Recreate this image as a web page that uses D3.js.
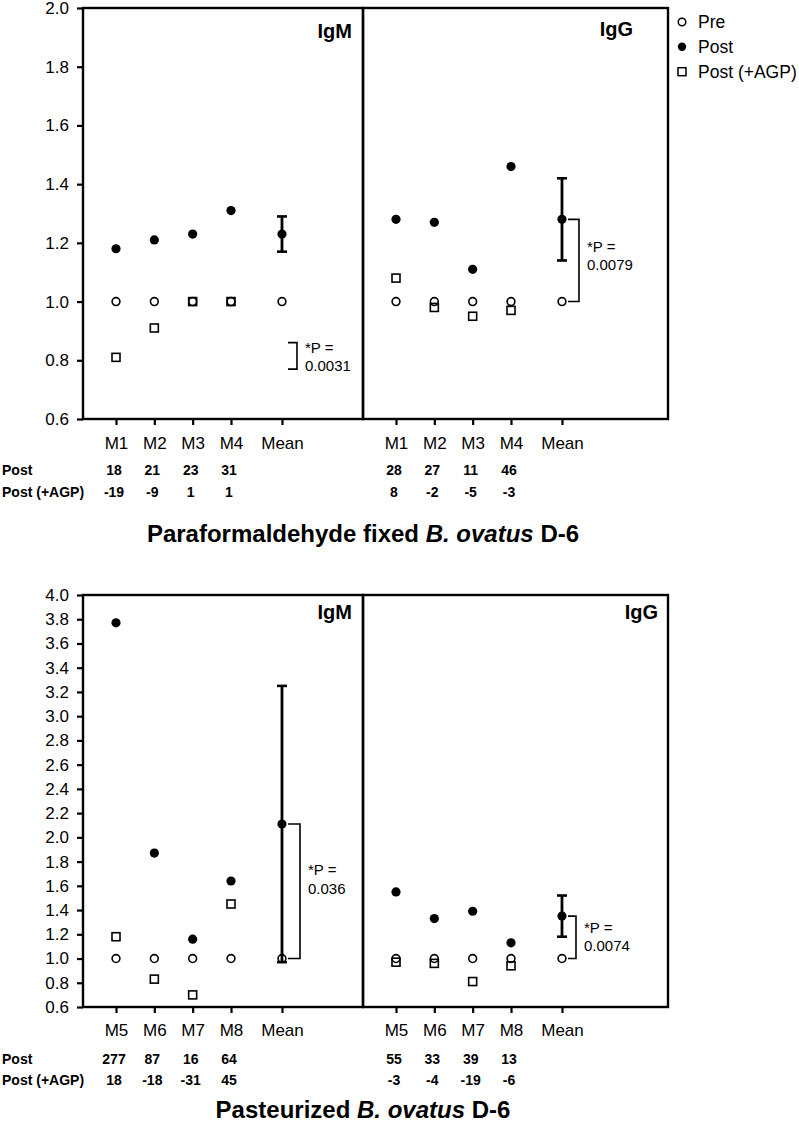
<!DOCTYPE html>
<html><head><meta charset="utf-8">
<script src="https://cdn.jsdelivr.net/npm/d3@7"></script>
<style>
html,body{margin:0;padding:0;background:#fff;}
svg{display:block;font-family:"Liberation Sans",Arial,Helvetica,sans-serif;}
</style></head>
<body>
<svg id="chart" width="799" height="1124"></svg>
<script>
// ---------- data ----------
const catsTop = ["M1", "M2", "M3", "M4", "Mean"];
const catsBottom = ["M5", "M6", "M7", "M8", "Mean"];
const xPositions = [1, 2, 3, 4, 5.33];

const topTicks = [0.6, 0.8, 1.0, 1.2, 1.4, 1.6, 1.8, 2.0];
const bottomTicks = [0.6, 0.8, 1.0, 1.2, 1.4, 1.6, 1.8, 2.0, 2.2, 2.4, 2.6, 2.8, 3.0, 3.2, 3.4, 3.6, 3.8, 4.0];

// Paraformaldehyde fixed — IgM
const pfIgM_pre  = [1.00, 1.00, 1.00, 1.00, 1.00];
const pfIgM_post = [1.18, 1.21, 1.23, 1.31, 1.23];
const pfIgM_agp  = [0.81, 0.91, 1.00, 1.00, null];
const pfIgM_err  = [1.17, 1.29];
const pfIgM_postPct = ["18", "21", "23", "31"];
const pfIgM_agpPct  = ["-19", "-9", "1", "1"];
// Paraformaldehyde fixed — IgG
const pfIgG_pre  = [1.00, 1.00, 1.00, 1.00, 1.00];
const pfIgG_post = [1.28, 1.27, 1.11, 1.46, 1.28];
const pfIgG_agp  = [1.08, 0.98, 0.95, 0.97, null];
const pfIgG_err  = [1.14, 1.42];
const pfIgG_postPct = ["28", "27", "11", "46"];
const pfIgG_agpPct  = ["8", "-2", "-5", "-3"];

// Pasteurized — IgM
const pzIgM_pre  = [1.00, 1.00, 1.00, 1.00, 1.00];
const pzIgM_post = [3.77, 1.87, 1.16, 1.64, 2.11];
const pzIgM_agp  = [1.18, 0.83, 0.70, 1.45, null];
const pzIgM_err  = [0.97, 3.25];
const pzIgM_postPct = ["277", "87", "16", "64"];
const pzIgM_agpPct  = ["18", "-18", "-31", "45"];
// Pasteurized — IgG
const pzIgG_pre  = [1.00, 1.00, 1.00, 1.00, 1.00];
const pzIgG_post = [1.55, 1.33, 1.39, 1.13, 1.35];
const pzIgG_agp  = [0.97, 0.96, 0.81, 0.94, null];
const pzIgG_err  = [1.18, 1.52];
const pzIgG_postPct = ["55", "33", "39", "13"];
const pzIgG_agpPct  = ["-3", "-4", "-19", "-6"];

// significance annotations: bracket range, label
const pfIgM_sig = {range: [0.77, 0.86], p: "0.0031", textAt: 0.826};
const pfIgG_sig = {range: [1.00, 1.28], p: "0.0079", textAt: 1.17};
const pzIgM_sig = {range: [1.00, 2.11], p: "0.036",  textAt: 1.687};
const pzIgG_sig = {range: [1.00, 1.35], p: "0.0074", textAt: 1.211};

const legendLabels = ["Pre", "Post", "Post (+AGP)"];
const rowLabels = ["Post", "Post (+AGP)"];
const titleTop = ["Paraformaldehyde fixed ", "B. ovatus", " D-6"];
const titleBottom = ["Pasteurized ", "B. ovatus", " D-6"];

// ---------- layout ----------
const svg = d3.select("#chart");
const L = 83, DIV = 363, R = 668;
const xOff = d3.scaleLinear().domain([1, 4]).range([33, 148]);

function drawFigure(o) {
  const y = d3.scaleLinear().domain([0.6, o.ymax]).range([o.y1, o.y0]);
  const g = svg.append("g");

  // y axis
  const ya = g.append("g").attr("transform", `translate(${L},0)`)
    .call(d3.axisLeft(y).tickValues(o.ticks).tickFormat(d3.format(".1f")).tickSize(6).tickPadding(8).tickSizeOuter(0));
  ya.select(".domain").remove();
  ya.selectAll("line").attr("stroke", "#000").attr("stroke-width", 2.2);
  ya.selectAll("text").attr("font-size", 17).attr("fill", "#000").attr("font-family", "Liberation Sans, Arial, sans-serif");

  const panels = [
    {x0: L, x1: DIV, d: o.panels[0]},
    {x0: DIV, x1: R, d: o.panels[1]}
  ];
  panels.forEach(p => {
    const xs = v => p.x0 + xOff(v);
    const xsc = d3.scaleLinear().domain(xOff.domain()).range(xOff.range().map(r => r + p.x0));
    // x axis
    const xa = g.append("g").attr("transform", `translate(0,${o.y1})`)
      .call(d3.axisBottom(xsc).tickValues(xPositions).tickFormat((d, i) => o.cats[i]).tickSize(6).tickPadding(o.xpad).tickSizeOuter(0));
    xa.select(".domain").remove();
    xa.selectAll("line").attr("stroke", "#000").attr("stroke-width", 2.2);
    xa.selectAll("text").attr("font-size", 17).attr("fill", "#000").attr("font-family", "Liberation Sans, Arial, sans-serif");

    // frame
    g.append("rect").attr("x", p.x0).attr("y", o.y0).attr("width", p.x1 - p.x0).attr("height", o.y1 - o.y0)
      .attr("fill", "none").attr("stroke", "#000").attr("stroke-width", 2.4);

    // panel label
    g.append("text").attr("x", p.d.labelX).attr("y", o.y0 + p.d.labelDy).attr("text-anchor", "end")
      .attr("font-size", 20).attr("font-weight", "bold").text(p.d.label);

    // AGP squares
    p.d.agp.forEach((v, i) => {
      if (v == null) return;
      g.append("rect").attr("x", xs(xPositions[i]) - 4).attr("y", y(v) - 4).attr("width", 8).attr("height", 8)
        .attr("fill", "none").attr("stroke", "#000").attr("stroke-width", 1.6);
    });
    // pre circles
    p.d.pre.forEach((v, i) => {
      g.append("circle").attr("cx", xs(xPositions[i])).attr("cy", y(v)).attr("r", 3.9)
        .attr("fill", "none").attr("stroke", "#000").attr("stroke-width", 1.6);
    });
    // post circles
    p.d.post.forEach((v, i) => {
      g.append("circle").attr("cx", xs(xPositions[i])).attr("cy", y(v)).attr("r", 4.6).attr("fill", "#000");
    });
    // error bar on mean
    const mx = xs(xPositions[4]);
    const e = p.d.err;
    g.append("line").attr("x1", mx).attr("x2", mx).attr("y1", y(e[0])).attr("y2", y(e[1]))
      .attr("stroke", "#000").attr("stroke-width", 2.8);
    e.forEach(v => g.append("line").attr("x1", mx - 5).attr("x2", mx + 5).attr("y1", y(v)).attr("y2", y(v))
      .attr("stroke", "#000").attr("stroke-width", 2.6));

    // significance bracket
    const s = p.d.sig;
    const bx0 = mx + 6, bx1 = mx + p.d.bw;
    g.append("path")
      .attr("d", `M${bx0},${y(s.range[1])}H${bx1}V${y(s.range[0])}H${bx0}`)
      .attr("fill", "none").attr("stroke", "#000").attr("stroke-width", 1.6);
    const t = g.append("text").attr("x", bx1 + 8).attr("y", y(s.textAt)).attr("font-size", 15);
    t.append("tspan").attr("x", bx1 + 8).text("*P =");
    t.append("tspan").attr("x", bx1 + 8).attr("dy", 18.5).text(s.p);

    // table values
    p.d.postPct.forEach((v, i) => {
      g.append("text").attr("x", xs(xPositions[i]) - 2).attr("y", o.y1 + o.row1).attr("text-anchor", "middle")
        .attr("font-size", 14).attr("font-weight", "bold").text(v);
    });
    p.d.agpPct.forEach((v, i) => {
      g.append("text").attr("x", xs(xPositions[i]) - 2).attr("y", o.y1 + o.row2).attr("text-anchor", "middle")
        .attr("font-size", 14).attr("font-weight", "bold").text(v);
    });
  });

  // row labels
  rowLabels.forEach((lab, i) => {
    g.append("text").attr("x", 2).attr("y", o.y1 + (i === 0 ? o.row1 : o.row2))
      .attr("font-size", 14).attr("font-weight", "bold").text(lab);
  });

  // title
  const tt = g.append("text").attr("x", DIV).attr("y", o.titleY).attr("text-anchor", "middle")
    .attr("font-size", 24).attr("font-weight", "bold");
  o.title.forEach((part, i) => {
    const sp = tt.append("tspan").text(part);
    if (i === 1) sp.attr("font-style", "italic");
  });
}

drawFigure({
  ymax: 2.0, y0: 8, y1: 419, ticks: topTicks, cats: catsTop, xpad: 12,
  row1: 56, row2: 78, titleY: 541.5, title: titleTop,
  panels: [
    {label: "IgM", labelX: 352, labelDy: 30, pre: pfIgM_pre, post: pfIgM_post, agp: pfIgM_agp, err: pfIgM_err,
     sig: pfIgM_sig, bw: 15, postPct: pfIgM_postPct, agpPct: pfIgM_agpPct},
    {label: "IgG", labelX: 633, labelDy: 28, pre: pfIgG_pre, post: pfIgG_post, agp: pfIgG_agp, err: pfIgG_err,
     sig: pfIgG_sig, bw: 17, postPct: pfIgG_postPct, agpPct: pfIgG_agpPct}
  ]
});

drawFigure({
  ymax: 4.0, y0: 595, y1: 1007, ticks: bottomTicks, cats: catsBottom, xpad: 11,
  row1: 56.5, row2: 77.5, titleY: 1118, title: titleBottom,
  panels: [
    {label: "IgM", labelX: 352, labelDy: 24, pre: pzIgM_pre, post: pzIgM_post, agp: pzIgM_agp, err: pzIgM_err,
     sig: pzIgM_sig, bw: 18, postPct: pzIgM_postPct, agpPct: pzIgM_agpPct},
    {label: "IgG", labelX: 658, labelDy: 24, pre: pzIgG_pre, post: pzIgG_post, agp: pzIgG_agp, err: pzIgG_err,
     sig: pzIgG_sig, bw: 14, postPct: pzIgG_postPct, agpPct: pzIgG_agpPct}
  ]
});

// legend
const lg = svg.append("g");
const legY = [22, 46.7, 71.7];
const lx = 682;
lg.append("circle").attr("cx", lx).attr("cy", legY[0]).attr("r", 3.8).attr("fill", "none").attr("stroke", "#000").attr("stroke-width", 1.5);
lg.append("circle").attr("cx", lx).attr("cy", legY[1]).attr("r", 4.2).attr("fill", "#000");
lg.append("rect").attr("x", lx - 4).attr("y", legY[2] - 4).attr("width", 8).attr("height", 8).attr("fill", "none").attr("stroke", "#000").attr("stroke-width", 1.5);
legendLabels.forEach((lab, i) => {
  lg.append("text").attr("x", 698).attr("y", legY[i]).attr("dy", "0.36em").attr("font-size", 17.5).text(lab);
});
</script>
</body></html>
